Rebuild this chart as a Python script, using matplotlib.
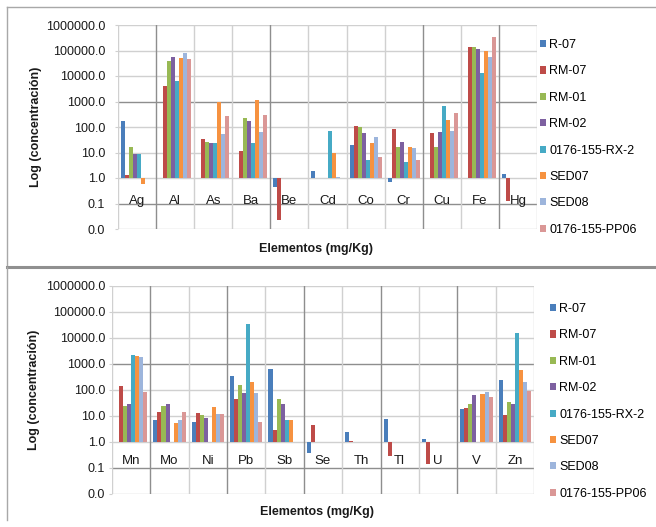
import matplotlib
matplotlib.use("Agg")
import matplotlib.pyplot as plt
import numpy as np
from matplotlib.ticker import FuncFormatter, FixedLocator, NullLocator
from matplotlib.lines import Line2D

plt.rcParams['font.family'] = ['Liberation Sans', 'DejaVu Sans']

nan = np.nan

series = ['R-07', 'RM-07', 'RM-01', 'RM-02', '0176-155-RX-2', 'SED07', 'SED08', '0176-155-PP06']
colors = ['#4A7EBB', '#BE4B48', '#98B954', '#7D60A0', '#46AAC5', '#F69240', '#9DB5DC', '#DA9796']

elements_top = ['Ag', 'Al', 'As', 'Ba', 'Be', 'Cd', 'Co', 'Cr', 'Cu', 'Fe', 'Hg']
r07_top = [166, nan, nan, nan, 0.46, 1.8, 20, 0.72, nan, nan, 1.45]
rm07_top = [1.35, 4200, 34, 11, 0.022, nan, 112, 83, 56, 141000, 0.13]
rm01_top = [16, 40000, 25, 225, nan, nan, 97, 16, 16, 141000, nan]
rm02_top = [8.7, 54000, 23, 178, nan, nan, 56, 26, 62, 115000, nan]
rx2_top = [8.7, 6200, 23, 23, nan, 72, 5.1, 4.4, 690, 12600, nan]
sed07_top = [0.58, 50000, 1000, 1180, nan, 10, 23, 16, 195, 98000, nan]
sed08_top = [nan, 80000, 53, 62, nan, 1.1, 42, 15, 72, 57000, nan]
pp06_top = [nan, 47000, 280, 295, nan, nan, 6.9, 5.1, 345, 350000, nan]

elements_bot = ['Mn', 'Mo', 'Ni', 'Pb', 'Sb', 'Se', 'Th', 'Tl', 'U', 'V', 'Zn']
r07_bot = [nan, 6.6, 5.7, 340, 620, 0.38, 2.3, 7.6, 1.27, 18, 245]
rm07_bot = [138, 14, 12.6, 43, 2.8, 4.5, 1.1, 0.27, 0.135, 20, 11]
rm01_bot = [23, 23, 11, 152, 43, nan, nan, nan, nan, 27, 33]
rm02_bot = [27, 28, 8.4, 76, 29, nan, nan, nan, nan, 62, 28]
rx2_bot = [2100, nan, nan, 33000, 6.6, nan, nan, nan, nan, nan, 15000]
sed07_bot = [1950, 5.2, 21, 193, 6.6, nan, nan, nan, nan, 68, 570]
sed08_bot = [1780, 6.6, 11.6, 72, nan, nan, nan, nan, nan, 79, 200]
pp06_bot = [83, 14, 11.6, 5.7, nan, nan, nan, nan, nan, 53, 86]

yticks = [0.01, 0.1, 1, 10, 100, 1000, 10000, 100000, 1000000]

LIGHT = '#D0D0D0'
DARK = '#8E8E8E'


def draw_panel(ax, elements, values, label_y, dark_vlines, pad, ylab_x, xlab_xy, legend_xy):
    n = len(elements)
    x = np.arange(n)
    w = 1 / 9.5
    # excel-style: bars grow from 1.0 (axis crosses at 1)
    for i, vals in enumerate(values):
        v = np.array(vals, dtype=float)
        ax.bar(x + (i - 4) * w, v - 1, bottom=1, width=w, color=colors[i],
               linewidth=0, label=series[i], zorder=3, align='edge')
    ax.set_yscale('log')
    ax.set_ylim(0.01, 1e6)
    ax.set_xlim(-0.5, n - 0.5)
    for t in yticks:
        ax.axhline(t, color=DARK if t in (0.1, 1000) else LIGHT, lw=1.0, zorder=1)
    for k in range(n + 1):
        ax.axvline(k - 0.5, color=DARK if k in dark_vlines else LIGHT, lw=1.0, zorder=1)
    for s in ax.spines.values():
        s.set_visible(False)
    ax.yaxis.set_major_locator(FixedLocator(yticks))
    ax.yaxis.set_minor_locator(NullLocator())
    ax.yaxis.set_major_formatter(FuncFormatter(lambda v, p: f"{v:.1f}"))
    ax.tick_params(axis='y', length=2.2, color=LIGHT, pad=pad, labelsize=9, labelcolor='#1a1a1a')
    ax.set_xticks([])
    for i, el in enumerate(elements):
        ax.text(i, label_y, el, ha='center', va='center', fontsize=9.5, color='#1a1a1a', zorder=4)
    ax.set_ylabel('Log (concentración)', fontsize=9, fontweight='bold', color='#1a1a1a')
    ax.yaxis.set_label_coords(ylab_x, 0.5)
    ax.set_xlabel('Elementos (mg/Kg)', fontsize=9, fontweight='bold', color='#1a1a1a')
    ax.xaxis.set_label_coords(*xlab_xy)
    ax.legend(loc='upper left', bbox_to_anchor=legend_xy, bbox_transform=ax.figure.transFigure,
              frameon=False, fontsize=9, handlelength=0.5, handleheight=0.5,
              handletextpad=0.25, labelspacing=1.15, borderpad=0, borderaxespad=0)


fig = plt.figure(figsize=(6.56, 5.27), dpi=100)

ax1 = fig.add_axes([118 / 656, 1 - 229 / 527, 419 / 656, 204 / 527])
draw_panel(ax1, elements_top,
           [r07_top, rm07_top, rm01_top, rm02_top, rx2_top, sed07_top, sed08_top, pp06_top],
           0.12, (1, 4, 8, 10), 7.0, -0.181, (0.473, -0.069), (540 / 656, 1 - 39 / 527))

ax2 = fig.add_axes([112 / 656, 1 - 493.7 / 527, 422 / 656, 208 / 527])
draw_panel(ax2, elements_bot,
           [r07_bot, rm07_bot, rm01_bot, rm02_bot, rx2_bot, sed07_bot, sed08_bot, pp06_bot],
           0.18, (1, 3, 5, 7, 9), 2.6, -0.171, (0.486, -0.059), (550 / 656, 1 - 303 / 527))

# panel frames
def fline(x0, y0, x1, y1, color, lw):
    fig.add_artist(Line2D([x0 / 656, x1 / 656], [1 - y0 / 527, 1 - y1 / 527],
                          transform=fig.transFigure, color=color, lw=lw))

fline(7, 7, 656, 7, '#A8A8A8', 1.0)
fline(7, 7, 7, 266, '#A8A8A8', 1.0)
fline(7, 267, 656, 267, '#909090', 2.2)
fline(7, 267, 7, 520, '#A8A8A8', 1.0)

fig.savefig('out.png', dpi=100)
